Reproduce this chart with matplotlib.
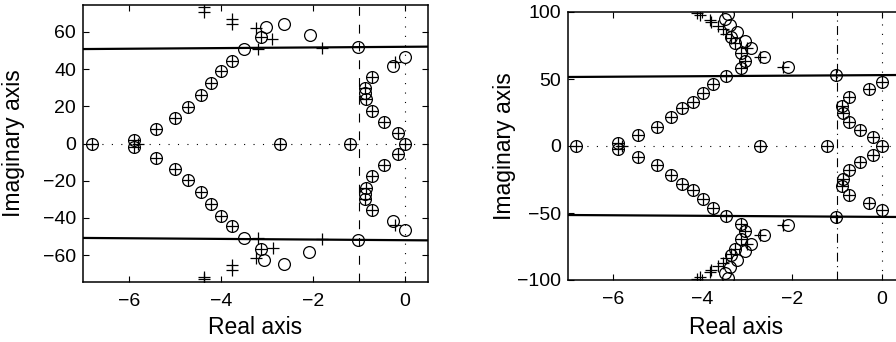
import matplotlib
matplotlib.use("Agg")
import matplotlib.pyplot as plt

plt.rcParams['font.family'] = ['Liberation Sans', 'DejaVu Sans']
plt.rcParams['font.size'] = 14

# ---------------- Left panel data ----------------
L_circ_x = [-6.8, -2.71, -1.19, 0.0,
            -5.9, -5.41, -5.0, -4.71, -4.44, -4.22, -4.0, -3.76, -3.49, -3.14, -3.03, -2.62, -2.07,
            -1.02, -0.27, 0.0, -0.72, -0.87, -0.87, -0.85, -0.71, -0.45, -0.16,
            -5.9, -5.41, -5.0, -4.71, -4.44, -4.22, -4.0, -3.76, -3.49, -3.12, -3.07, -2.64, -2.09,
            -1.02, -0.27, 0.0, -0.72, -0.87, -0.87, -0.85, -0.71, -0.45, -0.16]
L_circ_y = [0.0, 0.0, 0.0, 0.0,
            2.0, 7.9, 13.8, 19.8, 26.1, 32.3, 38.8, 44.5, 50.8, 57.4, 62.7, 64.5, 58.3,
            52.0, 41.8, 46.6, 35.9, 29.7, 27.0, 24.0, 17.7, 11.4, 5.5,
            -2.0, -7.9, -13.8, -19.8, -26.1, -32.3, -38.8, -44.5, -50.8, -57.0, -62.7, -65.0, -58.3,
            -52.0, -41.8, -46.6, -35.9, -29.7, -27.0, -24.0, -17.7, -11.4, -5.5]

L_plus_x = [-6.8, -5.8, -2.71, -1.19, 0.0,
            -5.9, -5.41, -5.0, -4.71, -4.44, -4.22, -4.0, -3.76, -3.14,
            -0.72, -0.87, -0.85, -0.71, -0.45, -0.16,
            -3.2, -3.23, -2.89, -1.8, -0.22, -4.38, -4.38, -3.76, -3.76,
            -5.9, -5.41, -5.0, -4.71, -4.44, -4.22, -4.0, -3.76, -3.12,
            -0.72, -0.87, -0.85, -0.71, -0.45, -0.16,
            -3.2, -3.25, -2.88, -1.8, -0.22, -4.37, -4.37, -3.76, -3.76]
L_plus_y = [0.0, 0.0, 0.0, 0.0, 0.0,
            2.0, 7.9, 13.8, 19.8, 26.1, 32.3, 38.8, 44.5, 57.4,
            35.9, 29.7, 24.0, 17.7, 11.4, 5.5,
            50.8, 62.0, 56.1, 51.3, 43.6, 73.5, 71.0, 66.9, 64.2,
            -2.0, -7.9, -13.8, -19.8, -26.1, -32.3, -38.8, -44.5, -57.0,
            -35.9, -29.7, -24.0, -17.7, -11.4, -5.5,
            -50.8, -61.5, -56.0, -51.3, -43.6, -71.7, -73.0, -65.4, -68.0]

L_line_x = [-7.0, 0.5]
L_line_y_up = [50.8, 52.1]
L_line_y_dn = [-50.8, -52.1]

# ---------------- Right panel data ----------------
R_circ_x = [-6.82, -2.71, -1.22, 0.0,
            -5.89, -5.43, -5.02, -4.70, -4.45, -4.21, -3.99, -3.77, -3.48, -3.13, -3.06, -3.13,
            -3.28, -3.36, -3.22, -3.39, -3.50, -3.43, -3.06, -2.91, -2.63, -2.10,
            -1.02, 0.01, -0.28, -0.72, -0.88, -0.86, -0.72, -0.49, -0.19,
            -5.89, -5.43, -5.02, -4.70, -4.45, -4.21, -3.99, -3.77, -3.48, -3.13, -3.06, -3.13,
            -3.28, -3.36, -3.22, -3.39, -3.50, -3.43, -3.06, -2.91, -2.63, -2.10,
            -1.02, 0.01, -0.28, -0.72, -0.88, -0.86, -0.72, -0.49, -0.19]
R_circ_y = [0.0, 0.0, 0.0, 0.0,
            2.0, 8.2, 14.4, 21.4, 28.1, 33.0, 39.8, 46.5, 52.5, 58.0, 63.4, 69.2,
            76.6, 81.6, 85.3, 90.3, 94.8, 98.3, 78.6, 72.9, 66.2, 59.2,
            53.0, 48.0, 42.3, 36.3, 30.0, 24.4, 18.1, 11.9, 6.5,
            -2.0, -8.2, -14.4, -21.4, -28.1, -33.0, -39.8, -46.5, -52.5, -58.0, -63.4, -69.2,
            -76.6, -81.6, -85.3, -90.3, -94.8, -98.3, -78.6, -72.9, -66.2, -59.2,
            -53.0, -48.0, -42.3, -36.3, -30.0, -24.4, -18.1, -11.9, -6.5]

R_plus_x = [-6.82, -5.8, -2.71, -1.22, 0.0,
            -5.89, -5.43, -5.02, -4.70, -4.45, -4.21, -3.99, -3.77, -3.48, -3.13, -3.06, -3.13, -3.28,
            -1.02, 0.01, -0.28, -0.72, -0.88, -0.86, -0.72, -0.49, -0.19,
            -4.12, -4.06, -3.84, -3.80, -3.66, -3.54, -3.47, -3.36, -3.00, -2.72, -2.20,
            -5.89, -5.43, -5.02, -4.70, -4.45, -4.21, -3.99, -3.77, -3.48, -3.13, -3.06, -3.13, -3.28,
            -1.02, 0.01, -0.28, -0.72, -0.88, -0.86, -0.72, -0.49, -0.19,
            -4.12, -4.06, -3.84, -3.80, -3.66, -3.54, -3.47, -3.36, -3.00, -2.72, -2.20]
R_plus_y = [0.0, 0.0, 0.0, 0.0, 0.0,
            2.0, 8.2, 14.4, 21.4, 28.1, 33.0, 39.8, 46.5, 52.5, 58.0, 63.4, 69.2, 76.6,
            53.0, 48.0, 42.3, 36.3, 30.0, 24.4, 18.1, 11.9, 6.5,
            99.0, 97.8, 94.0, 92.8, 89.8, 87.3, 83.6, 80.4, 72.9, 66.2, 59.2,
            -2.0, -8.2, -14.4, -21.4, -28.1, -33.0, -39.8, -46.5, -52.5, -58.0, -63.4, -69.2, -76.6,
            -53.0, -48.0, -42.3, -36.3, -30.0, -24.4, -18.1, -11.9, -6.5,
            -99.0, -97.8, -94.0, -92.8, -89.8, -87.3, -83.6, -80.4, -72.9, -66.2, -59.2]

R_line_x = [-7.0, 0.5]
R_line_y_up = [51.5, 53.0]
R_line_y_dn = [-51.5, -53.0]

x_ticks = [-6, -4, -2, 0]
L_yticks = [-60, -40, -20, 0, 20, 40, 60]
R_yticks = [-100, -50, 0, 50, 100]

fig = plt.figure(figsize=(8.96, 3.42), dpi=100)
axL = fig.add_axes([83/896, 1-282/342, 345/896, 277/342])
axR = fig.add_axes([568/896, 1-280/342, 336/896, 268/342])

dot_style = (0, (1, 7.5))


def draw(ax, cx, cy, px, py, lx, lyu, lyd, ylim, yticks, vstyle):
    ax.plot([-7.0, 0.5], [0, 0], color='black', lw=0.8, ls=dot_style, zorder=1)
    ax.plot([0, 0], ylim, color='black', lw=0.8, ls=dot_style, zorder=1)
    ax.plot([-1, -1], ylim, color='black', lw=0.8, ls=vstyle, zorder=1)
    ax.plot(lx, lyu, color='black', lw=1.6, zorder=2)
    ax.plot(lx, lyd, color='black', lw=1.6, zorder=2)
    ax.plot(cx, cy, ls='none', marker='o', ms=8.5, mfc='none', mec='black', mew=0.9, zorder=3)
    ax.plot(px, py, ls='none', marker='+', ms=9, mec='black', mew=0.9, zorder=3)
    ax.set_xlim(-7.0, 0.5)
    ax.set_ylim(*ylim)
    ax.set_xticks(x_ticks)
    ax.set_xticklabels(['\u22126', '\u22124', '\u22122', '0'])
    ax.set_yticks(yticks)
    ax.set_yticklabels([('\u2212' + str(-v)) if v < 0 else str(v) for v in yticks])
    ax.tick_params(direction='in', top=True, right=True, length=4, width=0.8)
    ax.tick_params(axis='x', pad=8)
    ax.tick_params(axis='y', pad=5)
    for s in ax.spines.values():
        s.set_linewidth(1.1)
    ax.set_xlabel('Real axis', fontsize=16.5)
    ax.set_ylabel('Imaginary axis', fontsize=16.5)


draw(axL, L_circ_x, L_circ_y, L_plus_x, L_plus_y, L_line_x, L_line_y_up, L_line_y_dn,
     (-74.5, 74.5), L_yticks, (0, (8, 8)))
draw(axR, R_circ_x, R_circ_y, R_plus_x, R_plus_y, R_line_x, R_line_y_up, R_line_y_dn,
     (-100, 100), R_yticks, (0, (8, 4, 1, 4)))

axL.yaxis.set_label_coords(-0.168, 0.5)
axL.xaxis.set_label_coords(0.5, -0.123)
axR.yaxis.set_label_coords(-0.155, 0.5)
axR.xaxis.set_label_coords(0.5, -0.134)

fig.savefig('out.png', dpi=100)
